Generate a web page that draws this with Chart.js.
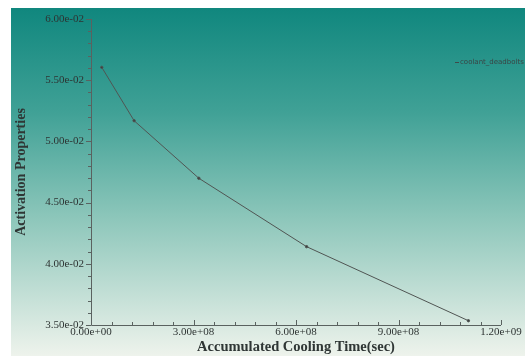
<!DOCTYPE html>
<html>
<head>
<meta charset="utf-8">
<script src="https://cdn.jsdelivr.net/npm/chart.js@4.4.1/dist/chart.umd.min.js"></script>
<style>
html,body{margin:0;padding:0;background:#ffffff;}
#wrap{position:relative;width:525px;height:356px;}
</style>
</head>
<body>
<div id="wrap"><canvas id="c" width="525" height="356"></canvas></div>
<script>
// Data (cooling time in seconds, activation property)
const coolingTimes = [3.156e7, 1.262e8, 3.156e8, 6.31e8, 1.1046e9];
const activation = [0.05605, 0.05169, 0.04699, 0.0414, 0.03535];
const seriesLabel = 'coolant_deadbolts';
const xTickValues = [0, 3e8, 6e8, 9e8, 1.2e9];
const yTickValues = [0.035, 0.04, 0.045, 0.05, 0.055, 0.06];
const xTitle = 'Accumulated Cooling Time(sec)';
const yTitle = 'Activation Properties';

function fmtExp(v){
  let s = Number(v).toExponential(2);
  const m = s.match(/^(-?[\d.]+)e([+-])(\d+)$/);
  if(!m) return s;
  let e = m[3].length < 2 ? '0' + m[3] : m[3];
  return m[1] + 'e' + m[2] + e;
}

const pts = coolingTimes.map((x,i)=>({x:x, y:activation[i]}));

const bgPlugin = {
  id:'bg',
  beforeDraw(chart){
    const ctx = chart.ctx;
    ctx.save();
    const g = ctx.createLinearGradient(0, 8, 0, 356);
    g.addColorStop(0, '#10877e');
    g.addColorStop(0.3, '#40a196');
    g.addColorStop(0.6, '#8cc6ba');
    g.addColorStop(1, '#eef3ec');
    ctx.fillStyle = g;
    ctx.fillRect(11, 8, 514, 348);
    ctx.restore();
  }
};

const axisPlugin = {
  id:'axisTicks',
  afterDatasetsDraw(chart){
    const ctx = chart.ctx;
    const xs = chart.scales.x, ys = chart.scales.y;
    const a = chart.chartArea;
    ctx.save();
    ctx.strokeStyle = '#5a6260';
    ctx.lineWidth = 1;
    ctx.beginPath();
    ctx.moveTo(a.left+0.5, a.top);
    ctx.lineTo(a.left+0.5, a.bottom+0.5);
    ctx.lineTo(a.right, a.bottom+0.5);
    ctx.stroke();
    // x ticks (inside, upward)
    const xStep = (xTickValues[1]-xTickValues[0])/5;
    for(let i = 0; i <= (xTickValues.length-1)*5; i++){
      const v = xTickValues[0] + i*xStep;
      const px = Math.round(xs.getPixelForValue(v)) + 0.5;
      const major = i % 5 === 0;
      ctx.beginPath();
      ctx.moveTo(px, a.bottom);
      ctx.lineTo(px, a.bottom - (major ? 5 : 3));
      ctx.stroke();
    }
    // y ticks (outside, left)
    const yStep = (yTickValues[1]-yTickValues[0])/5;
    for(let i = 0; i <= (yTickValues.length-1)*5; i++){
      const v = yTickValues[0] + i*yStep;
      const py = Math.round(ys.getPixelForValue(v)) + 0.5;
      const major = i % 5 === 0;
      ctx.beginPath();
      ctx.moveTo(a.left, py);
      ctx.lineTo(a.left - (major ? 5 : 3), py);
      ctx.stroke();
    }
    ctx.restore();
  },
  afterDraw(chart){
    const ctx = chart.ctx;
    ctx.save();
    ctx.strokeStyle = '#3f4a4a';
    ctx.lineWidth = 1;
    ctx.beginPath();
    ctx.moveTo(455, 62.5);
    ctx.lineTo(459, 62.5);
    ctx.stroke();
    ctx.fillStyle = '#3a4545';
    ctx.font = '7px "DejaVu Sans"';
    ctx.textBaseline = 'middle';
    ctx.fillText(chart.data.datasets[0].label, 460, 62.5);
    ctx.restore();
  }
};

new Chart(document.getElementById('c'), {
  type:'scatter',
  data:{
    datasets:[{
      label: seriesLabel,
      data: pts,
      showLine: true,
      borderColor:'#505553',
      backgroundColor:'#3a403f',
      borderWidth:1,
      pointRadius:1.2,
      pointHoverRadius:1.2,
      tension:0
    }]
  },
  options:{
    responsive:false,
    animation:false,
    devicePixelRatio:1,
    layout:{padding:{top:19, right:24, bottom:0, left:0}},
    plugins:{legend:{display:false}, tooltip:{enabled:false}},
    scales:{
      x:{
        type:'linear',
        min:0, max:1.2e9,
        afterBuildTicks(s){ s.ticks = xTickValues.map(v=>({value:v})); },
        afterFit(s){ s.height = 31; },
        grid:{display:false, drawTicks:false},
        border:{display:false},
        ticks:{
          padding:1,
          maxRotation:0,
          autoSkip:false,
          color:'#2e3433',
          font:{family:'"Liberation Serif", "DejaVu Serif", serif', size:11},
          callback:(v)=>fmtExp(v)
        },
        title:{
          display:true,
          text:xTitle,
          color:'#2f3635',
          font:{family:'"Liberation Serif", "DejaVu Serif", serif', size:14.5, weight:'bold'},
          padding:{top:0, bottom:0}
        }
      },
      y:{
        type:'linear',
        min:0.035, max:0.06,
        afterBuildTicks(s){ s.ticks = yTickValues.map(v=>({value:v})); },
        afterFit(s){ s.width = 91; },
        grid:{display:false, drawTicks:false},
        border:{display:false},
        ticks:{
          padding:7,
          autoSkip:false,
          color:'#2e3433',
          font:{family:'"Liberation Serif", "DejaVu Serif", serif', size:11},
          callback:(v)=>fmtExp(v)
        },
        title:{
          display:true,
          text:yTitle,
          color:'#2f3635',
          font:{family:'"Liberation Serif", "DejaVu Serif", serif', size:14, weight:'bold'},
          padding:{top:13, bottom:0}
        }
      }
    }
  },
  plugins:[bgPlugin, axisPlugin]
});
</script>
</body>
</html>
